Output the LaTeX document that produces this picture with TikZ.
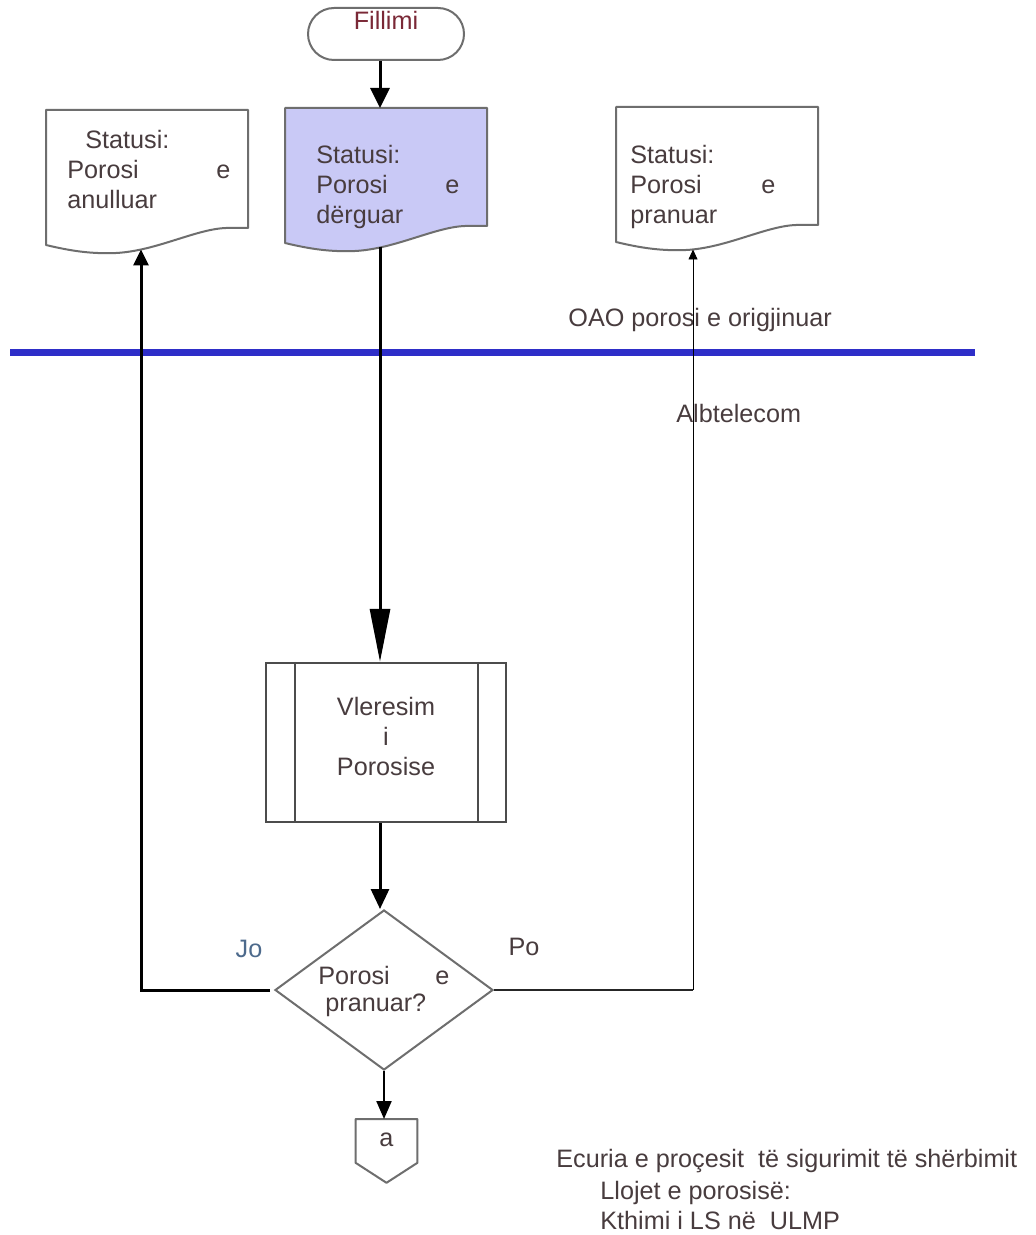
\documentclass[tikz,border=0pt]{standalone}
\usepackage{fontspec}
\setmainfont{Liberation Sans}
\usetikzlibrary{arrows.meta,shapes.geometric}

\definecolor{ink}{RGB}{72,60,62}
\definecolor{redink}{RGB}{122,40,54}
\definecolor{joblue}{RGB}{77,106,140}
\definecolor{edge}{RGB}{110,110,110}
\definecolor{docblue}{RGB}{201,201,246}
\definecolor{band}{RGB}{46,46,200}
\definecolor{thin}{RGB}{120,120,120}

\tikzset{
  lbl/.style={font=\fontsize{12.6}{15}\selectfont, text=ink, inner sep=0pt},
  docline/.style={draw=edge, line width=1pt, line join=round},
  pics/docshape/.style={code={
    \path[docline,#1] (0,0) -- (202,0) -- (202,118) -- (180,118)
      .. controls (150,119) and (110,141) .. (70,143)
      .. controls (45,144) and (25,141) .. (0,135) -- cycle;
    \coordinate (-top) at (95,0);
    \coordinate (-b) at (95,139.5);
    \coordinate (-c) at (77,142.5);
  }},
  pics/docshape/.default={fill=white},
  terminal/.style={draw=edge, line width=1pt, rounded corners=13pt,
    minimum width=78pt, minimum height=26pt, inner sep=0pt},
  procbox/.style={draw=black!70, line width=1.2pt, fill=white,
    minimum width=120pt, minimum height=79.5pt, inner sep=0pt},
  decision/.style={diamond, draw=edge, line width=1pt,
    minimum width=109pt, minimum height=80pt, inner sep=0pt},
  pageref/.style={inner sep=0pt, minimum width=30.5pt, minimum height=31.5pt},
  flow/.style={line width=1.5pt, black},
  headA/.style={-{Triangle[length=10pt,width=9.5pt]}},
  headC/.style={-{Triangle[length=26.5pt,width=10pt]}},
  headB/.style={-{Triangle[length=10pt,width=9pt]}},
  headL/.style={-{Triangle[length=8pt,width=7.5pt]}},
  headS/.style={-{Triangle[length=9pt,width=7.5pt]}},
  headR/.style={-{Triangle[length=5pt,width=4.5pt]}},
}

\begin{document}
\begin{tikzpicture}[x=0.5pt,y=-0.5pt]
\useasboundingbox (0,0) rectangle (1036,1235);
\fill[white] (0,0) rectangle (1036,1235);

% start terminal
\node[terminal] (fillimi) at (386,34) {};
\node[lbl, text=redink, anchor=base] (tfill) at (386,30) {Fillimi};

% status documents
\pic (dleft)  at (46,110)  {docshape};
\pic (dblue)  at (285,108) {docshape={fill=docblue}};
\pic (dright) at (616,107) {docshape};

\node[lbl, align=left, anchor=north west] (tleft) at (67,130)
  {\hspace*{9pt}Statusi:\\\makebox[81.5pt][l]{Porosi\hfill e}\\anulluar};
\node[lbl, align=left, anchor=north west] (tblue) at (316,145)
  {Statusi:\\\makebox[71.5pt][l]{Porosi\hfill e}\\dërguar};
\node[lbl, align=left, anchor=north west] (tright) at (630,145)
  {Statusi:\\\makebox[72.5pt][l]{Porosi\hfill e}\\pranuar};

% organisation boundary
\draw[band, line width=3.5pt] (10,352) -- (975,352);
\node[lbl, anchor=base west] (toao) at (568,327) {OAO porosi e origjinuar};
\node[lbl, anchor=base west] (talb) at (676,422) {Albtelecom};

% order evaluation
\node[procbox] (proc) at (386,742.5) {};
\draw[black!70, line width=1.2pt] ([xshift=15pt]proc.north west) -- ([xshift=15pt]proc.south west);
\draw[black!70, line width=1.2pt] ([xshift=-14.5pt]proc.north east) -- ([xshift=-14.5pt]proc.south east);
\node[lbl, align=center, anchor=north] (tproc) at (386,697) {Vleresim\\i\\Porosise};

% decision
\node[decision] (dec) at (384,990) {};
\node[lbl, font=\fontsize{12.6}{13.5}\selectfont, align=left, anchor=north west] (tdec) at (318,966)
  {\makebox[65.5pt][l]{Porosi\hfill e}\\\hspace*{3.5pt}pranuar?};
\node[lbl, text=joblue, anchor=base] (tjo) at (249,957) {Jo};
\node[lbl, anchor=base] (tpo) at (524,955) {Po};

% off-page connector
\node[pageref, anchor=north] (offpg) at (386.5,1119) {};
\draw[draw=edge, line width=1pt, line join=round]
  (offpg.north west) -- (offpg.north east) -- ([yshift=10pt]offpg.south east)
  -- (offpg.south) -- ([yshift=10pt]offpg.south west) -- cycle;
\node[lbl, anchor=base] (ta) at (386.5,1146) {a};

% caption
\node[lbl, anchor=base west] (cap1) at (556,1167) {Ecuria e proçesit\ \ të sigurimit të shërbimit};
\node[lbl, anchor=base west] (cap2) at (600,1199) {Llojet e porosisë:};
\node[lbl, anchor=base west] (cap3) at (600,1229) {Kthimi i LS në\ \ ULMP};

% connectors
\coordinate (spine) at (380,0);
\draw[flow, headA] (spine |- fillimi.south) -- (dblue-top);
\draw[flow, headC] (dblue-b) -- (dblue-b |- proc.north);
\draw[flow, headB] (dblue-b |- proc.south) -- (dblue-b |- dec.north);

\coordinate (cornerL) at (dleft-b |- dec.west);
\draw[flow, headL] ([xshift=-2pt]dec.west) -- (cornerL) -- (dleft-b);

\coordinate (cornerR) at (dright-c |- dec.east);
\draw[line width=1.2pt, black!85] (dec.east) -- (cornerR);
\draw[line width=1pt, thin, headR] (cornerR) -- (dright-c);

\draw[line width=1.1pt, black, headS] (dec.south) -- (dec.south |- offpg.north);
\end{tikzpicture}
\end{document}
